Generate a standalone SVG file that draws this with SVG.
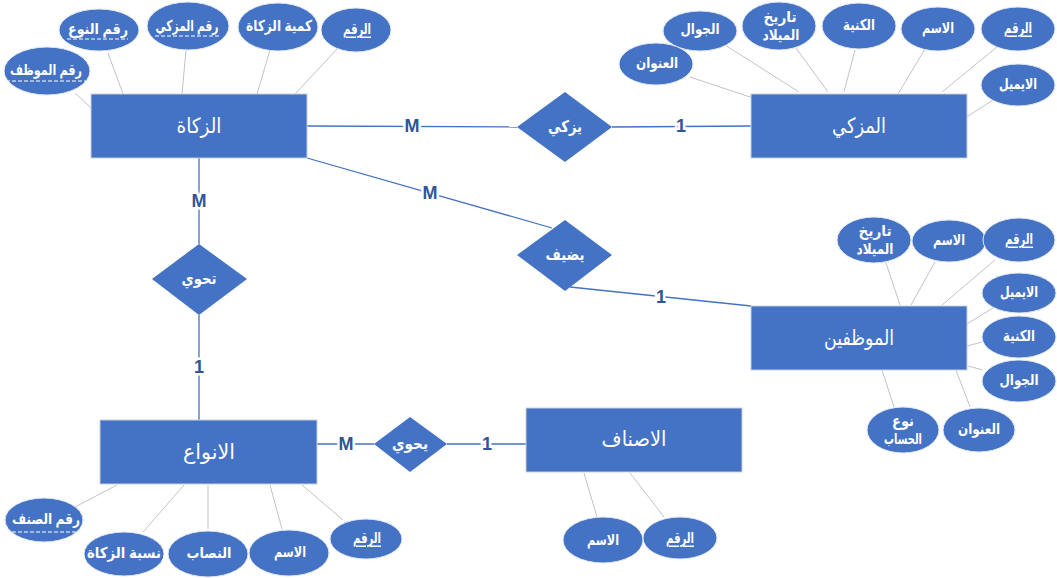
<svg xmlns="http://www.w3.org/2000/svg" width="1057" height="578" viewBox="0 0 1057 578">
  <style>
    .ent { fill: #4472C4; stroke: #C9CFD8; stroke-width: 1; }
    .rel { fill: #4472C4; stroke: none; }
    .att { fill: #4472C4; stroke: #E4E9F2; stroke-width: 1; }
    .link { stroke: #4472C4; stroke-width: 1.3; fill: none; }
    .attlink { stroke: #C3C3C3; stroke-width: 1; fill: none; }
    .et { font-family: "Liberation Sans", "DejaVu Sans", sans-serif; font-size: 21px; fill: #FFFFFF; text-anchor: middle; dominant-baseline: central; }
    .rt { font-family: "Liberation Sans", "DejaVu Sans", sans-serif; font-size: 16px; font-weight: bold; fill: #FFFFFF; text-anchor: middle; dominant-baseline: central; }
    .at { font-family: "Liberation Sans", "DejaVu Sans", sans-serif; font-size: 15px; font-weight: bold; fill: #FFFFFF; text-anchor: middle; dominant-baseline: central; }
    .card { font-family: "Liberation Sans", "DejaVu Sans", sans-serif; font-size: 18px; font-weight: bold; fill: #2F5597; text-anchor: middle; dominant-baseline: central; stroke: #FFFFFF; stroke-width: 5; paint-order: stroke; }
    .key { text-decoration: underline; }
    .fk { stroke: #FFFFFF; stroke-width: 1; stroke-dasharray: 4 2; }
  </style>

  <!-- attribute links -->
  <g id="attribute-links">
    <line class="attlink" x1="338" y1="48" x2="295" y2="94"/>
    <line class="attlink" x1="270" y1="50" x2="257" y2="94"/>
    <line class="attlink" x1="186" y1="50" x2="182" y2="94"/>
    <line class="attlink" x1="108" y1="53" x2="123" y2="94"/>
    <line class="attlink" x1="75" y1="93" x2="99" y2="115"/>

    <line class="attlink" x1="690" y1="77" x2="753" y2="98"/>
    <line class="attlink" x1="725" y1="45" x2="799" y2="92"/>
    <line class="attlink" x1="796" y1="48" x2="828" y2="92"/>
    <line class="attlink" x1="855" y1="50" x2="844" y2="92"/>
    <line class="attlink" x1="925" y1="49" x2="898" y2="94"/>
    <line class="attlink" x1="997" y1="47" x2="942" y2="92"/>
    <line class="attlink" x1="993" y1="100" x2="965" y2="118"/>

    <line class="attlink" x1="885" y1="260" x2="900" y2="305"/>
    <line class="attlink" x1="935" y1="262" x2="911" y2="305"/>
    <line class="attlink" x1="995" y1="260" x2="942" y2="305"/>
    <line class="attlink" x1="993" y1="308" x2="965" y2="325"/>
    <line class="attlink" x1="982" y1="342" x2="967" y2="346"/>
    <line class="attlink" x1="983" y1="370" x2="968" y2="366"/>
    <line class="attlink" x1="970" y1="407" x2="956" y2="370"/>
    <line class="attlink" x1="894" y1="407" x2="882" y2="370"/>

    <line class="attlink" x1="75" y1="507" x2="117" y2="485"/>
    <line class="attlink" x1="143" y1="532" x2="184" y2="485"/>
    <line class="attlink" x1="208" y1="529" x2="208" y2="485"/>
    <line class="attlink" x1="282" y1="529" x2="270" y2="485"/>
    <line class="attlink" x1="343" y1="520" x2="302" y2="485"/>

    <line class="attlink" x1="597" y1="517" x2="584" y2="473"/>
    <line class="attlink" x1="664" y1="517" x2="630" y2="473"/>
  </g>

  <!-- relationship connectors -->
  <g id="connectors">
    <line class="link" x1="307" y1="126" x2="517" y2="127"/>
    <line class="link" x1="612" y1="127" x2="751" y2="126"/>
    <line class="link" x1="307" y1="158" x2="552" y2="228"/>
    <line class="link" x1="570" y1="287" x2="751" y2="306"/>
    <line class="link" x1="199" y1="158" x2="199" y2="244"/>
    <line class="link" x1="199" y1="315" x2="199" y2="420"/>
    <line class="link" x1="317" y1="444" x2="374" y2="444"/>
    <line class="link" x1="447" y1="444" x2="526" y2="444"/>
    <text class="card" x="412" y="126">M</text>
    <text class="card" x="681" y="126">1</text>
    <text class="card" x="430" y="193">M</text>
    <text class="card" x="661" y="297">1</text>
    <text class="card" x="199" y="201">M</text>
    <text class="card" x="199" y="367">1</text>
    <text class="card" x="346" y="444">M</text>
    <text class="card" x="487" y="444">1</text>
  </g>

  <!-- entity: الزكاة -->
  <g id="zakat">
    <rect class="ent" x="91" y="94" width="216" height="64"/>
    <text class="et" x="199" y="125" textLength="45" lengthAdjust="spacingAndGlyphs">الزكاة</text>
  </g>

  <g id="zakat-attributes">
    <g id="zakat-id">
      <ellipse class="att" cx="356" cy="30" rx="35" ry="22"/>
      <text class="at key" x="357" y="28" textLength="28" lengthAdjust="spacingAndGlyphs">الرقم</text>
    </g>
    <g id="zakat-amount">
      <ellipse class="att" cx="278" cy="27" rx="40" ry="24"/>
      <text class="at" x="279" y="25" textLength="66" lengthAdjust="spacingAndGlyphs">كمية الزكاة</text>
    </g>
    <g id="zakat-payer-id">
      <ellipse class="att" cx="188" cy="26" rx="41" ry="24"/>
      <text class="at" x="187" y="25" textLength="63" lengthAdjust="spacingAndGlyphs">رقم المزكي</text>
      <line class="fk" x1="155" y1="36" x2="219" y2="36"/>
    </g>
    <g id="zakat-type-id">
      <ellipse class="att" cx="99" cy="30" rx="40" ry="21"/>
      <text class="at" x="98" y="28" textLength="60" lengthAdjust="spacingAndGlyphs">رقم النوع</text>
      <line class="fk" x1="67" y1="39" x2="128" y2="39"/>
    </g>
    <g id="zakat-employee-id">
      <ellipse class="att" cx="47" cy="71" rx="43" ry="24"/>
      <text class="at" x="46" y="69" textLength="72" lengthAdjust="spacingAndGlyphs">رقم الموظف</text>
      <line class="fk" x1="6" y1="81" x2="86" y2="81"/>
    </g>
  </g>

  <!-- entity: المزكي -->
  <g id="payer">
    <rect class="ent" x="751" y="94" width="216" height="64"/>
    <text class="et" x="859" y="125" textLength="54" lengthAdjust="spacingAndGlyphs">المزكي</text>
  </g>

  <g id="payer-attributes">
    <g id="payer-id">
      <ellipse class="att" cx="1018" cy="29" rx="37" ry="22"/>
      <text class="at key" x="1018" y="27" textLength="28" lengthAdjust="spacingAndGlyphs">الرقم</text>
    </g>
    <g id="payer-name">
      <ellipse class="att" cx="938" cy="29" rx="37" ry="22"/>
      <text class="at" x="938" y="27" textLength="32" lengthAdjust="spacingAndGlyphs">الاسم</text>
    </g>
    <g id="payer-surname">
      <ellipse class="att" cx="859" cy="26" rx="37" ry="23"/>
      <text class="at" x="859" y="24" textLength="32" lengthAdjust="spacingAndGlyphs">الكنية</text>
    </g>
    <g id="payer-birthdate">
      <ellipse class="att" cx="779" cy="26" rx="37" ry="24"/>
      <text class="at" x="780" y="16" textLength="33" lengthAdjust="spacingAndGlyphs">تاريخ</text>
      <text class="at" x="781" y="34" textLength="37" lengthAdjust="spacingAndGlyphs">الميلاد</text>
    </g>
    <g id="payer-mobile">
      <ellipse class="att" cx="700" cy="31" rx="37" ry="20"/>
      <text class="at" x="700" y="28" textLength="39" lengthAdjust="spacingAndGlyphs">الجوال</text>
    </g>
    <g id="payer-address">
      <ellipse class="att" cx="656" cy="64" rx="37" ry="21"/>
      <text class="at" x="657" y="62" textLength="42" lengthAdjust="spacingAndGlyphs">العنوان</text>
    </g>
    <g id="payer-email">
      <ellipse class="att" cx="1018" cy="85" rx="37" ry="21"/>
      <text class="at" x="1018" y="83" textLength="38" lengthAdjust="spacingAndGlyphs">الايميل</text>
    </g>
  </g>

  <!-- relationship: يزكي -->
  <g id="rel-pays">
    <polygon class="rel" points="565,92 612,127 565,162 517,127"/>
    <text class="rt" x="565" y="126" textLength="34" lengthAdjust="spacingAndGlyphs">يزكي</text>
  </g>

  <!-- relationship: يضيف -->
  <g id="rel-adds">
    <polygon class="rel" points="565,220 612,255 565,291 517,255"/>
    <text class="rt" x="565" y="254" textLength="39" lengthAdjust="spacingAndGlyphs">يضيف</text>
  </g>

  <!-- entity: الموظفين -->
  <g id="employees">
    <rect class="ent" x="751" y="306" width="216" height="64"/>
    <text class="et" x="859" y="337" textLength="70" lengthAdjust="spacingAndGlyphs">الموظفين</text>
  </g>

  <g id="employee-attributes">
    <g id="emp-birthdate">
      <ellipse class="att" cx="874" cy="240" rx="37" ry="23"/>
      <text class="at" x="875" y="230" textLength="33" lengthAdjust="spacingAndGlyphs">تاريخ</text>
      <text class="at" x="875" y="248" textLength="37" lengthAdjust="spacingAndGlyphs">الميلاد</text>
    </g>
    <g id="emp-name">
      <ellipse class="att" cx="949" cy="241" rx="37" ry="21"/>
      <text class="at" x="949" y="239" textLength="32" lengthAdjust="spacingAndGlyphs">الاسم</text>
    </g>
    <g id="emp-id">
      <ellipse class="att" cx="1019" cy="240" rx="36" ry="22"/>
      <text class="at key" x="1019" y="238" textLength="28" lengthAdjust="spacingAndGlyphs">الرقم</text>
    </g>
    <g id="emp-email">
      <ellipse class="att" cx="1019" cy="293" rx="37" ry="20"/>
      <text class="at" x="1019" y="291" textLength="38" lengthAdjust="spacingAndGlyphs">الايميل</text>
    </g>
    <g id="emp-surname">
      <ellipse class="att" cx="1019" cy="337" rx="37" ry="21"/>
      <text class="at" x="1019" y="335" textLength="32" lengthAdjust="spacingAndGlyphs">الكنية</text>
    </g>
    <g id="emp-mobile">
      <ellipse class="att" cx="1019" cy="381" rx="37" ry="21"/>
      <text class="at" x="1019" y="379" textLength="39" lengthAdjust="spacingAndGlyphs">الجوال</text>
    </g>
    <g id="emp-address">
      <ellipse class="att" cx="979" cy="430" rx="36" ry="22"/>
      <text class="at" x="979" y="428" textLength="42" lengthAdjust="spacingAndGlyphs">العنوان</text>
    </g>
    <g id="emp-account-type">
      <ellipse class="att" cx="903" cy="430" rx="36" ry="23"/>
      <text class="at" x="903" y="420" textLength="22" lengthAdjust="spacingAndGlyphs">نوع</text>
      <text class="at" x="903" y="438" textLength="38" lengthAdjust="spacingAndGlyphs">الحساب</text>
    </g>
  </g>

  <!-- relationship: تحوي -->
  <g id="rel-contains">
    <polygon class="rel" points="199,244 247,279 199,315 152,279"/>
    <text class="rt" x="199" y="278" textLength="35" lengthAdjust="spacingAndGlyphs">تحوي</text>
  </g>

  <!-- entity: الانواع -->
  <g id="types">
    <rect class="ent" x="100" y="420" width="217" height="64"/>
    <text class="et" x="209" y="451" textLength="52" lengthAdjust="spacingAndGlyphs">الانواع</text>
  </g>

  <g id="type-attributes">
    <g id="type-category-id">
      <ellipse class="att" cx="44" cy="520" rx="39" ry="22"/>
      <text class="at" x="46" y="518" textLength="68" lengthAdjust="spacingAndGlyphs">رقم الصنف</text>
      <line class="fk" x1="12" y1="532" x2="80" y2="532"/>
    </g>
    <g id="type-rate">
      <ellipse class="att" cx="124" cy="554" rx="40" ry="22"/>
      <text class="at" x="124" y="552" textLength="74" lengthAdjust="spacingAndGlyphs">نسبة الزكاة</text>
    </g>
    <g id="type-nisab">
      <ellipse class="att" cx="208" cy="554" rx="40" ry="23"/>
      <text class="at" x="209" y="552" textLength="45" lengthAdjust="spacingAndGlyphs">النصاب</text>
    </g>
    <g id="type-name">
      <ellipse class="att" cx="289" cy="553" rx="40" ry="23"/>
      <text class="at" x="290" y="551" textLength="32" lengthAdjust="spacingAndGlyphs">الاسم</text>
    </g>
    <g id="type-id">
      <ellipse class="att" cx="366" cy="539" rx="36" ry="20"/>
      <text class="at key" x="367" y="537" textLength="28" lengthAdjust="spacingAndGlyphs">الرقم</text>
    </g>
  </g>

  <!-- relationship: يحوي -->
  <g id="rel-includes">
    <polygon class="rel" points="410,417 447,444 410,472 374,444"/>
    <text class="rt" x="410" y="443" textLength="36" lengthAdjust="spacingAndGlyphs">يحوي</text>
  </g>

  <!-- entity: الاصناف -->
  <g id="categories">
    <rect class="ent" x="526" y="408" width="216" height="64"/>
    <text class="et" x="634" y="438" textLength="65" lengthAdjust="spacingAndGlyphs">الاصناف</text>
  </g>

  <g id="category-attributes">
    <g id="cat-name">
      <ellipse class="att" cx="603" cy="540" rx="40" ry="23"/>
      <text class="at" x="603" y="539" textLength="32" lengthAdjust="spacingAndGlyphs">الاسم</text>
    </g>
    <g id="cat-id">
      <ellipse class="att" cx="680" cy="538" rx="37" ry="21"/>
      <text class="at key" x="680" y="537" textLength="28" lengthAdjust="spacingAndGlyphs">الرقم</text>
    </g>
  </g>
</svg>
